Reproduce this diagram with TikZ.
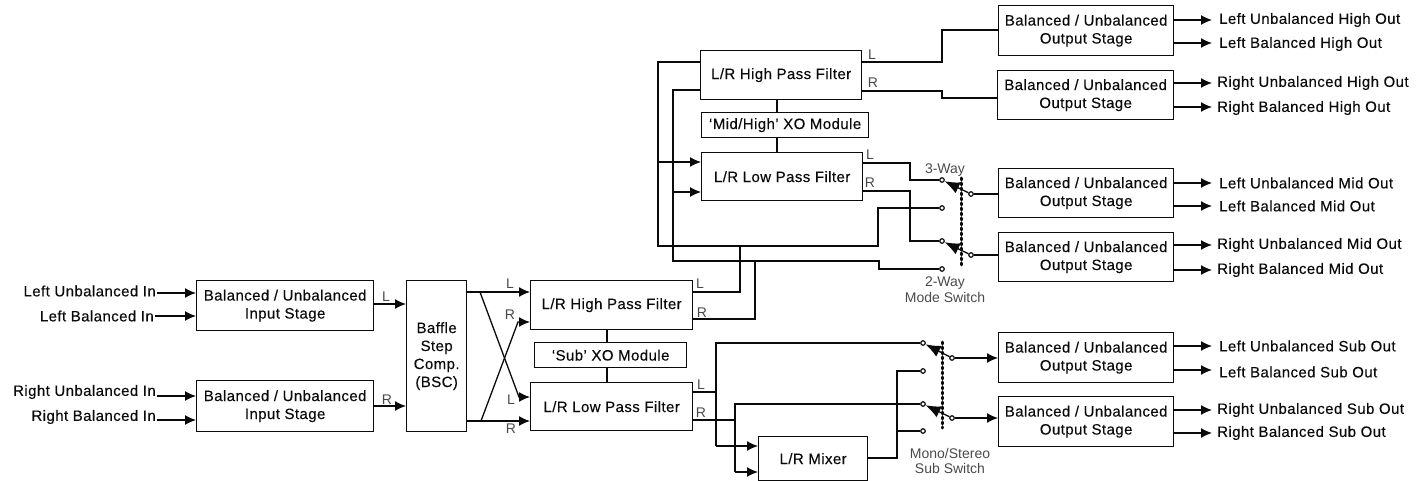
\documentclass[tikz,border=0pt]{standalone}
\usepackage{fontspec}
\setmainfont[LetterSpace=2.8,FakeBold=0.25]{Liberation Sans}
\newfontfamily\lightf{Liberation Sans}
\usetikzlibrary{arrows.meta}
\definecolor{ink}{HTML}{0A0A0A}
\definecolor{lab}{HTML}{4A4A4A}
\tikzset{
  x=1pt,y=-1pt,
  blk/.style={draw=ink,line width=1.3pt,inner sep=0pt,align=center,font=\fontsize{15}{18}\selectfont,text=ink,anchor=north west},
  wire/.style={draw=ink,line width=1.3pt},
  awire/.style={wire,-{Latex[length=11pt,width=10pt]}},
  atxt/.style={font=\fontsize{15}{18}\selectfont,text=ink,inner sep=1pt},
  outL/.style={atxt,anchor=west,inner xsep=7pt},
  outR/.style={atxt,anchor=west,inner xsep=5pt},
  lbl/.style={font=\lightf\fontsize{14}{15.5}\selectfont,text=lab,inner sep=0pt,align=center},
  term/.style={circle,draw=ink,line width=1.2pt,fill=white,inner sep=0pt,minimum size=4.5pt},
  gang/.style={draw=ink,line width=3pt,line cap=round,dash pattern=on 1.8pt off 3.2pt},
  lever/.style={wire,-{Latex[length=15pt,width=12pt]}},
}
\begin{document}
\begin{tikzpicture}
\useasboundingbox (0,0) rectangle (1426,481);
\def\bu{Balanced / Unbalanced}
% boxes
\node[blk,minimum width=177pt,minimum height=50pt] (inL) at (196,280) {\bu\\Input Stage};
\node[blk,minimum width=177pt,minimum height=51pt] (inR) at (196,380) {\bu\\Input Stage};
\node[blk,minimum width=60pt,minimum height=151pt] (bsc) at (406,280) {Baffle\\Step\\Comp.\\(BSC)};
\node[blk,minimum width=162pt,minimum height=49pt] (shp) at (530,280) {L/R High Pass Filter};
\node[blk,minimum width=152pt,minimum height=25pt] (sxo) at (534,342) {‘Sub’ XO Module};
\node[blk,minimum width=162pt,minimum height=48pt] (slp) at (530,382) {L/R Low Pass Filter};
\node[blk,minimum width=161pt,minimum height=49pt] (hhp) at (700,50) {L/R High Pass Filter};
\node[blk,minimum width=167pt,minimum height=25pt] (hxo) at (701,112) {‘Mid/High’ XO Module};
\node[blk,minimum width=161pt,minimum height=48pt] (hlp) at (701,152) {L/R Low Pass Filter};
\node[blk,minimum width=109pt,minimum height=44pt] (mix) at (758,436) {L/R Mixer};
\node[blk,minimum width=175pt,minimum height=50pt] (o1) at (998,5) {\bu\\Output Stage};
\node[blk,minimum width=176pt,minimum height=49pt] (o2) at (997,70) {\bu\\Output Stage};
\node[blk,minimum width=175pt,minimum height=49pt] (o3) at (998,168) {\bu\\Output Stage};
\node[blk,minimum width=175pt,minimum height=49pt] (o4) at (998,232) {\bu\\Output Stage};
\node[blk,minimum width=175pt,minimum height=50pt] (o5) at (998,332) {\bu\\Output Stage};
\node[blk,minimum width=175pt,minimum height=50pt] (o6) at (998,396) {\bu\\Output Stage};
% input labels
\node[atxt,anchor=east] (tLU) at (157,291) {Left Unbalanced In};
\node[atxt,anchor=east] (tLB) at (155,316) {Left Balanced In};
\node[atxt,anchor=east] (tRU) at (157,392) {Right Unbalanced In};
\node[atxt,anchor=east] (tRB) at (157,417) {Right Balanced In};
\draw[awire] (tLU.east|-0,293) -- (inL.west|-0,293);
\draw[awire] (tLB.east|-0,316) -- (inL.west|-0,316);
\draw[awire] (tRU.east|-0,396) -- (inR.west|-0,396);
\draw[awire] (tRB.east|-0,420) -- (inR.west|-0,420);
\draw[awire] (inL.east|-0,304) -- (bsc.west|-0,304);
\draw[awire] (inR.east|-0,406) -- (bsc.west|-0,406);
\node[lbl] (l1) at (386,297) {L};
\node[lbl] (l2) at (387,400) {R};
% crossing
\coordinate (xa) at (480,292);
\coordinate (xb) at (481,421);
\draw[awire] (bsc.east|-0,292) -- (shp.west|-0,292);
\draw[awire] (bsc.east|-0,421) -- (slp.west|-0,421);
\draw[awire] (xa) -- (519,397) -- (slp.west|-0,397);
\draw[awire] (xb) -- (518,322) -- (shp.west|-0,322);
\node[lbl] (l3) at (510,284) {L};
\node[lbl] (l4) at (510,315) {R};
\node[lbl] (l5) at (511,400) {L};
\node[lbl] (l6) at (511,429) {R};
% XO links
\draw[wire] (shp.south-|607,0) -- (sxo.north-|607,0);
\draw[wire] (sxo.south-|607,0) -- (slp.north-|607,0);
\draw[wire] (hhp.south-|777,0) -- (hxo.north-|777,0);
\draw[wire] (hxo.south-|777,0) -- (hlp.north-|777,0);
% high outs
\draw[wire] (hhp.east|-0,62) -- (942,62) |- (o1.west|-0,30);
\draw[wire] (hhp.east|-0,91) -- (942,91) -- (942,98) -- (o2.west|-0,98);
\node[lbl] (l7) at (872,55) {L};
\node[lbl] (l8) at (873,83) {R};
% switches 3-way
\node[term] (t1) at (942,180) {};
\node[term] (t2) at (942,208) {};
\node[term] (t3) at (942,241) {};
\node[term] (t4) at (942,269) {};
\node[term] (c1) at (971,194) {};
\node[term] (c2) at (971,255) {};
\draw[wire] (hlp.east|-0,163) -- (910,163) |- (t1);
\draw[wire] (hlp.east|-0,191) -- (910,191) |- (t3);
\node[lbl] (l9) at (870,155) {L};
\node[lbl] (l10) at (870,183) {R};
\draw[wire] (hhp.west|-0,62) -- (658,62) -- (658,246) -- (878,246) |- (t2);
\draw[wire] (hhp.west|-0,90) -- (673,90) -- (673,261) -- (879,261) |- (t4);
\draw[awire] (658,162) -- (hlp.west|-0,162);
\draw[awire] (673,192) -- (hlp.west|-0,192);
\draw[wire] (shp.east|-0,292) -- (740,292) -- (740,246);
\draw[wire] (shp.east|-0,319) -- (755,319) -- (755,261);
\node[lbl] (l11) at (700,284) {L};
\node[lbl] (l12) at (702,313) {R};
\draw[lever] (c1) -- (t1);
\draw[lever] (c2) -- (t3);
\draw[wire] (c1) -- (o3.west|-c1);
\draw[wire] (c2) -- (o4.west|-c2);
\draw[gang] (961,178) -- (961,265);
\node[lbl] (s1) at (945,170) {3-Way};
\node[lbl] (s2) at (945,289.5) {2-Way\\Mode Switch};
% sub switches
\node[term] (t5) at (923,343) {};
\node[term] (t6) at (923,371) {};
\node[term] (t7) at (923,404) {};
\node[term] (t8) at (923,431) {};
\node[term] (c3) at (952,358) {};
\node[term] (c4) at (952,418) {};
\draw[wire] (slp.east|-0,392) -- (716,392);
\draw[wire] (716,446) -- (716,343) -- (t5);
\draw[wire] (slp.east|-0,420) -- (735,420);
\draw[wire] (735,472) -- (735,404) -- (t7);
\draw[awire] (716,446) -- (mix.west|-0,446);
\draw[awire] (735,472) -- (mix.west|-0,472);
\draw[wire] (mix.east|-0,458) -- (897,458) -- (897,371) -- (t6);
\draw[wire] (897,431) -- (t8);
\node[lbl] (l13) at (701,385) {L};
\node[lbl] (l14) at (701,413) {R};
\draw[lever] (c3) -- (t5);
\draw[lever] (c4) -- (t7);
\draw[awire] (c3) -- (o5.west|-c3);
\draw[awire] (c4) -- (o6.west|-c4);
\draw[gang] (942,342) -- (942,428);
\node[lbl] (s3) at (950,461) {Mono/Stereo\\Sub Switch};
% outputs
\newcommand{\outp}[6]{\node[#2] (#1) at (1212,#3) {#6};
  \draw[awire] (#4.east|-0,#5) -- (#1.west|-0,#5);}
\outp{a1}{outL}{20}{o1}{20}{Left Unbalanced High Out}
\outp{a2}{outL}{44}{o1}{43}{Left Balanced High Out}
\outp{a3}{outR}{83}{o2}{83}{Right Unbalanced High Out}
\outp{a4}{outR}{108}{o2}{107}{Right Balanced High Out}
\outp{a5}{outL}{183}{o3}{183}{Left Unbalanced Mid Out}
\outp{a6}{outL}{206}{o3}{206}{Left Balanced Mid Out}
\outp{a7}{outR}{245}{o4}{245}{Right Unbalanced Mid Out}
\outp{a8}{outR}{270}{o4}{270}{Right Balanced Mid Out}
\outp{a9}{outL}{346}{o5}{346}{Left Unbalanced Sub Out}
\outp{a10}{outL}{372}{o5}{370}{Left Balanced Sub Out}
\outp{a11}{outR}{410}{o6}{410}{Right Unbalanced Sub Out}
\outp{a12}{outR}{433}{o6}{433}{Right Balanced Sub Out}
\end{tikzpicture}
\end{document}
